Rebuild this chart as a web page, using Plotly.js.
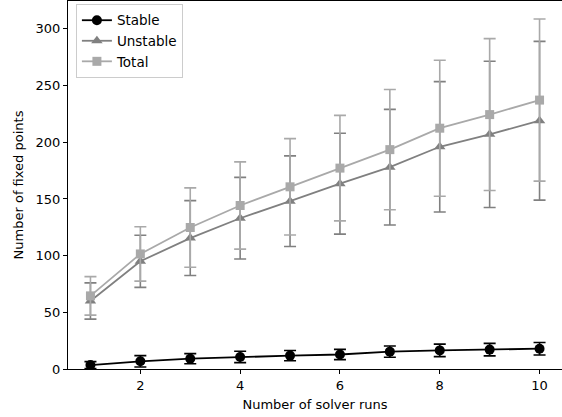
<!DOCTYPE html>
<html>
<head>
<meta charset="utf-8">
<script src="https://cdn.plot.ly/plotly-3.0.1.min.js"></script>
<style>html,body{margin:0;padding:0;background:#fff;}#chart{width:562px;height:417px;}</style>
</head>
<body>
<div id="chart"></div>
<script>
const runs = [1, 2, 3, 4, 5, 6, 7, 8, 9, 10];
const stable = [3.5, 6.8, 9.1, 10.6, 11.8, 12.8, 15.3, 16.4, 17.1, 17.9];
const stableErr = [3, 5, 4.5, 5, 4.5, 4.5, 5, 5.5, 5.5, 5.5];
const unstable = [60, 95, 115.5, 133, 148, 163.5, 178, 196, 207, 219];
const unstableErr = [16, 23, 33, 36, 40, 44.5, 51, 57.5, 64.5, 70];
const total = [64.5, 101.5, 124.8, 144.2, 160.7, 177.2, 193.5, 212.4, 224.4, 237.2];
const totalErr = [17, 24, 35, 38.5, 42.5, 46.5, 53, 60, 67, 71.5];
const xTicks = [2, 4, 6, 8, 10];
const yTicks = [0, 50, 100, 150, 200, 250, 300];

function tr(name, y, err, color, symbol, size) {
  return {
    x: runs, y: y, name: name, type: 'scatter', mode: 'lines+markers',
    line: {color: color, width: 1.8},
    marker: {color: color, symbol: symbol, size: size},
    error_y: {type: 'data', array: err, visible: true, color: color, thickness: 1.6, width: 6}
  };
}

const data = [
  tr('Stable', stable, stableErr, '#000000', 'circle', 10),
  tr('Unstable', unstable, unstableErr, '#808080', 'triangle-up', 10),
  tr('Total', total, totalErr, '#a9a9a9', 'square', 9)
];

const layout = {
  width: 562, height: 417,
  margin: {l: 68, r: 0, t: 1, b: 48, pad: 0},
  paper_bgcolor: '#fff', plot_bgcolor: '#fff',
  font: {family: 'DejaVu Sans', size: 13, color: '#000'},
  showlegend: true,
  legend: {x: 0.016, y: 0.992, xanchor: 'left', yanchor: 'top', bordercolor: '#cccccc', borderwidth: 1, bgcolor: 'rgba(255,255,255,0.8)', font: {size: 13.5}, tracegroupgap: 0},
  xaxis: {
    range: [0.55, 10.45], tickvals: xTicks, ticktext: xTicks.map(String),
    showgrid: false, zeroline: false, showline: true, linecolor: '#000', linewidth: 1, mirror: true,
    ticks: 'outside', ticklen: 4, tickwidth: 1, tickcolor: '#000',
    title: {text: 'Number of solver runs', font: {size: 13}, standoff: 8}
  },
  yaxis: {
    range: [0, 324.6], tickvals: yTicks, ticktext: yTicks.map(String),
    showgrid: false, zeroline: false, showline: true, linecolor: '#000', linewidth: 1, mirror: false,
    ticks: 'outside', ticklen: 4, tickwidth: 1, tickcolor: '#000',
    title: {text: 'Number of fixed points', font: {size: 13}, standoff: 9}
  }
};

Plotly.newPlot('chart', data, layout, {displayModeBar: false, staticPlot: true});
</script>
</body>
</html>
